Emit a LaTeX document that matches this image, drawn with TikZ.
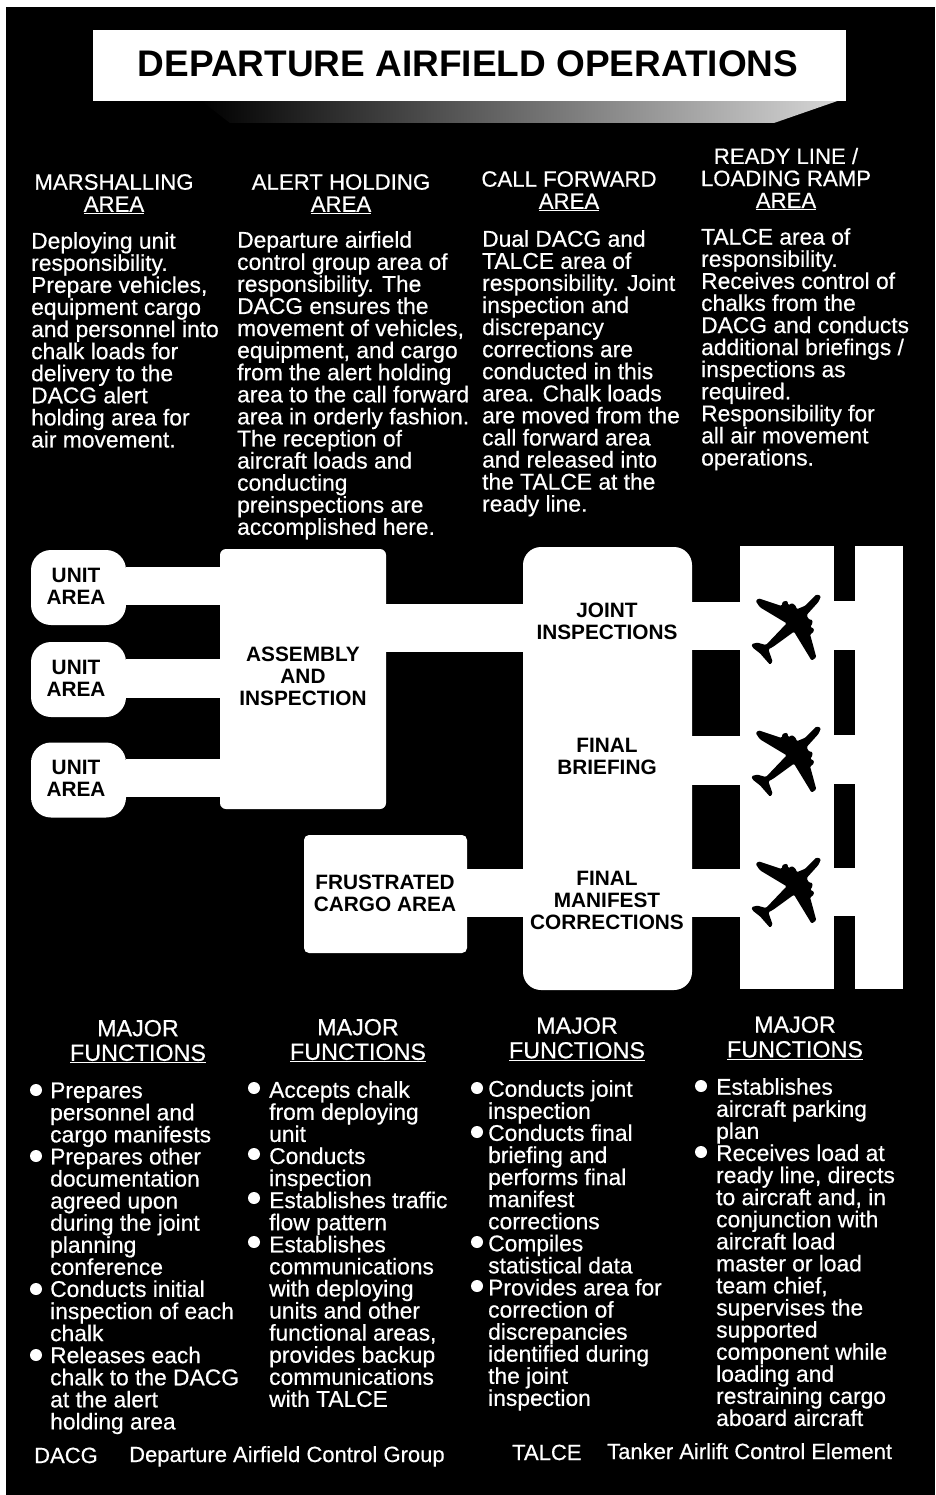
\documentclass[tikz,border=0pt]{standalone}
\usepackage{fontspec}
\setmainfont{Liberation Sans}
\newfontfamily\bodyfnt[FakeBold=0.5]{Liberation Sans}
\newfontfamily\labelfnt{Liberation Sans Bold}
\begin{document}
\begin{tikzpicture}[x=1pt,y=-1pt,
  whitebox/.style={fill=white,draw=none,inner sep=0pt,outer sep=0pt},
  blackbox/.style={fill=black,draw=none,inner sep=0pt,outer sep=0pt},
  unitbox/.style={whitebox,rounded corners=20pt,minimum width=95pt,minimum height=75pt},
  band/.style={draw=white,line cap=butt},
  headtxt/.style={text=white,align=center,inner sep=0pt,font=\bodyfnt\fontsize{22.2}{22.1}\selectfont},
  majortxt/.style={text=white,align=center,inner sep=0pt,font=\bodyfnt\fontsize{23.3}{24.6}\selectfont},
  bodytxt/.style={text=white,align=left,anchor=north west,inner sep=0pt,font=\bodyfnt\fontsize{22.8}{22.08}\selectfont},
  labeltxt/.style={text=black,align=center,inner sep=0pt,font=\labelfnt\fontsize{20.8}{22}\selectfont},
  foot/.style={text=white,anchor=base west,inner sep=0pt,font=\bodyfnt\fontsize{22}{22}\selectfont},
  dotb/.style={circle,fill=white,draw=none,inner sep=0pt,minimum size=12pt},
  plane/.pic={
    \fill[black,rounded corners=1.2pt] (530,193) -- (543,198) -- (536,215) -- (500,255) -- (506,268) -- (518,270) -- (516,285) -- (510,290) -- (523,297) -- (518,310) -- (510,312) -- (529,382) -- (515,392) -- (462,305) -- (400,350) -- (385,358) -- (398,395) -- (390,404) -- (360,370) -- (337,352) -- (335,342) -- (352,338) -- (378,345) -- (440,280) -- (360,232) -- (347,213) -- (356,205) -- (425,228) -- (428,215) -- (442,212) -- (445,226) -- (456,219) -- (468,228) -- (470,238) -- (496,227) -- cycle;
  }]
\useasboundingbox (0,0) rectangle (935,1495);
\fill[white] (0,0) rectangle (935,1495);
\fill[black] (6,7) rectangle (935,1495);

% title
\shade[left color=black,middle color=gray!85,right color=gray!30,shading angle=90] (200,100) -- (846,98) -- (774,123) -- (230,123) -- cycle;
\node[whitebox,minimum width=753pt,minimum height=71pt] (title) at (469.5,65.5) {};
\node[text=black,inner sep=0pt,font=\labelfnt\fontsize{37}{37}\selectfont] (titletxt) at (468,64) {DEPARTURE AIRFIELD OPERATIONS};

% column headings
\node[headtxt] (h1) at (114,194) {MARSHALLING\\\underline{AREA}};
\node[headtxt] (h2) at (341,194) {ALERT HOLDING\\\underline{AREA}};
\node[headtxt] (h3) at (569,191) {CALL FORWARD\\\underline{AREA}};
\node[headtxt] (h4) at (786,179) {READY LINE /\\LOADING RAMP\\\underline{AREA}};

% column bodies
\node[bodytxt] (b1) at (31,232) {\rule{0pt}{16pt}Deploying unit\\responsibility.\\Prepare vehicles,\\equipment cargo\\and personnel into\\chalk loads for\\delivery to the\\DACG alert\\holding area for\\air movement.};
\node[bodytxt] (b2) at (237,231) {\rule{0pt}{16pt}Departure airfield\\control group area of\\responsibility.  The\\DACG ensures the\\movement of vehicles,\\equipment, and cargo\\from the alert holding\\area to the call forward\\area in orderly fashion.\\The reception of\\aircraft loads and\\conducting\\preinspections are\\accomplished here.};
\node[bodytxt] (b3) at (482,230) {\rule{0pt}{16pt}Dual DACG and\\TALCE area of\\responsibility.  Joint\\inspection and\\discrepancy\\corrections are\\conducted in this\\area.  Chalk loads\\are moved from the\\call forward area\\and released into\\the TALCE at the\\ready line.};
\node[bodytxt] (b4) at (701,228) {\rule{0pt}{16pt}TALCE area of\\responsibility.\\Receives control of\\chalks from the\\DACG and conducts\\additional briefings /\\inspections as\\required.\\Responsibility for\\all air movement\\operations.};

% flow shapes
\node[unitbox] (u1) at (78.5,587.5) {};
\node[unitbox] (u2) at (78.5,679.5) {};
\node[unitbox] (u3) at (78.5,780) {};
\node[whitebox,rounded corners=6pt,minimum width=166pt,minimum height=260pt] (asm) at (303,679) {};
\node[whitebox,rounded corners=18pt,minimum width=169pt,minimum height=443pt] (tall) at (607.5,768.5) {};
\node[whitebox,rounded corners=5pt,minimum width=163pt,minimum height=118pt] (frus) at (385.5,894) {};
\node[whitebox,minimum width=163pt,minimum height=443pt] (ramp) at (821.5,767.5) {};
\coordinate (j1) at (692,626);
\coordinate (j2) at (692,760.5);
\coordinate (j3) at (692,893);

\draw[band,line width=38pt] (126,586) -- (220,586);
\draw[band,line width=39pt] (126,678.5) -- (220,678.5);
\draw[band,line width=38pt] (126,778) -- (220,778);
\draw[band,line width=48pt] (386,628) -- (523,628);
\draw[band,line width=48pt] (467,893) -- (523,893);
\draw[band,line width=48pt] (692,626) -- (740,626);
\draw[band,line width=49pt] (692,760.5) -- (740,760.5);
\draw[band,line width=48pt] (692,893) -- (740,893);

% black strips in the ramp
\fill[black] (834,546) rectangle (855,601);
\fill[black] (834,650) rectangle (855,735);
\fill[black] (834,784) rectangle (855,868);
\fill[black] (834,916) rectangle (855,989);

% planes
\pic[scale=0.3333] at (640,530) {plane};
\pic[scale=0.3333] at (640,662) {plane};
\pic[scale=0.3333] at (640,793) {plane};

% flow labels
\node[labeltxt] (lu1) at (76,586) {UNIT\\AREA};
\node[labeltxt] (lu2) at (76,678) {UNIT\\AREA};
\node[labeltxt] (lu3) at (76,778) {UNIT\\AREA};
\node[labeltxt] (lasm) at (303,676) {ASSEMBLY\\AND\\INSPECTION};
\node[labeltxt] (lj) at (607,621) {JOINT\\INSPECTIONS};
\node[labeltxt] (lb) at (607,756) {FINAL\\BRIEFING};
\node[labeltxt] (lm) at (607,900) {FINAL\\MANIFEST\\CORRECTIONS};
\node[labeltxt] (lf) at (385,893) {FRUSTRATED\\CARGO AREA};

% major functions
\node[majortxt] (m1) at (138,1041.5) {MAJOR\\\underline{FUNCTIONS}};
\node[majortxt] (m2) at (358,1040.5) {MAJOR\\\underline{FUNCTIONS}};
\node[majortxt] (m3) at (577,1039) {MAJOR\\\underline{FUNCTIONS}};
\node[majortxt] (m4) at (795,1038) {MAJOR\\\underline{FUNCTIONS}};

\node[bodytxt] (f1) at (50,1082) {\rule{0pt}{16pt}Prepares\\personnel and\\cargo manifests\\Prepares other\\documentation\\agreed upon\\during the joint\\planning\\conference\\Conducts initial\\inspection of each\\chalk\\Releases each\\chalk to the DACG\\at the alert\\holding area};
\node[dotb] (d11) at (36,1090) {};
\node[dotb] (d12) at (36,1156) {};
\node[dotb] (d13) at (36,1289) {};
\node[dotb] (d14) at (36,1355) {};

\node[bodytxt] (f2) at (269,1081) {\rule{0pt}{16pt}Accepts chalk\\from deploying\\unit\\Conducts\\inspection\\Establishes traffic\\flow pattern\\Establishes\\communications\\with deploying\\units and other\\functional areas,\\provides backup\\communications\\with TALCE};
\node[dotb] (d21) at (254,1088) {};
\node[dotb] (d22) at (254,1154) {};
\node[dotb] (d23) at (254,1198) {};
\node[dotb] (d24) at (254,1242) {};

\node[bodytxt] (f3) at (488,1080) {\rule{0pt}{16pt}Conducts joint\\inspection\\Conducts final\\briefing and\\performs final\\manifest\\corrections\\Compiles\\statistical data\\Provides area for\\correction of\\discrepancies\\identified during\\the joint\\inspection};
\node[dotb] (d31) at (477,1088) {};
\node[dotb] (d32) at (477,1132) {};
\node[dotb] (d33) at (477,1242) {};
\node[dotb] (d34) at (477,1286) {};

\node[bodytxt] (f4) at (716,1078) {\rule{0pt}{16pt}Establishes\\aircraft parking\\plan\\Receives load at\\ready line, directs\\to aircraft and, in\\conjunction with\\aircraft load\\master or load\\team chief,\\supervises the\\supported\\component while\\loading and\\restraining cargo\\aboard aircraft};
\node[dotb] (d41) at (701,1086) {};
\node[dotb] (d42) at (701,1152) {};

% footer
\node[foot] (k1) at (34,1463) {DACG};
\node[foot] (k2) at (129,1462) {Departure Airfield Control Group};
\node[foot] (k3) at (512,1460) {TALCE};
\node[foot] (k4) at (607,1459) {Tanker Airlift Control Element};
\end{tikzpicture}
\end{document}
